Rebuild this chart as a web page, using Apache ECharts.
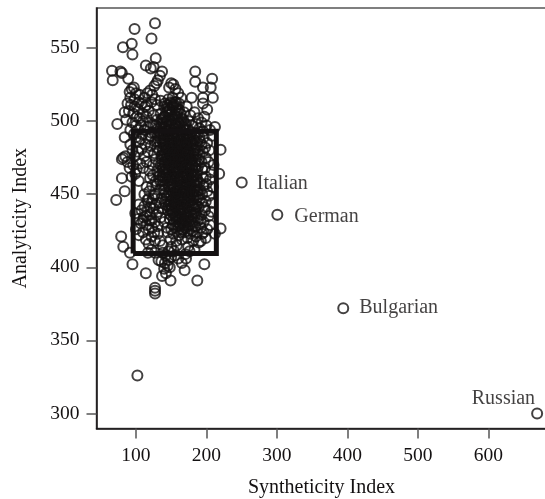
<!DOCTYPE html>
<html><head><meta charset="utf-8">
<style>html,body{margin:0;padding:0;background:#fff}#c{width:545px;height:499px}</style>
<script src="https://cdn.jsdelivr.net/npm/echarts@6/dist/echarts.min.js"></script>
</head><body><div id="c"></div>
<script>
const xTicks=[100,200,300,400,500,600];
const yTicks=[300,350,400,450,500,550];
const boxX=[96,214,214,96,96];
const boxY=[409.5,409.5,493,493,409.5];
const outerPoints=[[127,567],[98,563],[122,556.5],[94,553],[81.5,550.5],[95,545.5],[128,543],[114,538],[121,536],[125,537],[66,534.5],[78,534],[80,533],[67,528],[89,529],[184,534],[184,527],[208,529],[195,523],[206,523],[209,516],[195,516],[179,516],[201,508],[195,512],[73.5,498],[84,506],[86,501],[212,496],[220,480.5],[84,489],[82,475],[80,474],[85,476],[80,461],[84,452],[218,464],[72,446],[79,421],[82,414],[91.5,410],[95,402],[114,396],[127,386],[127,384],[127,382],[137,394],[142.5,396],[149,391],[169,398],[171,406],[197,402],[187,391],[220,426.5],[212,423],[192,418],[102,326]];
const upperPoints=[[134,531],[131,528],[137,534],[129,526],[126,524],[150,526],[153,525],[147,523],[156,522],[160,519],[164,516],[94,522],[97,523],[91,520],[100,519],[92,516],[120,521],[116,519],[123,518],[112,516],[127,515],[105,518],[88,512],[93,511],[98,510],[103,508],[90,507],[96,505],[101,503],[108,512],[113,510],[118,507],[122,513],[130,511],[135,514],[141,512],[146,515],[152,510],[157,513],[161,508],[168,506],[172,510],[177,504],[183,506],[188,502],[193,499],[197,503],[95,499],[100,497],[105,502],[110,500],[115,503],[120,499],[125,504],[130,501],[135,505],[140,503],[145,507],[150,500],[155,504],[160,499],[165,502],[170,498],[175,500],[180,497],[185,498],[190,495],[200,497],[205,494],[208,490]];
const corePointsA=[[100,489],[104,486],[109,491],[113,484],[118,488],[122,492],[127,486],[131,490],[135,496],[139,488],[143,493],[147,497],[151,490],[155,495],[159,489],[163,494],[167,490],[171,494],[175,488],[179,492],[183,487],[187,491],[191,486],[196,489],[201,485],[204,480],[92,484],[95,480],[98,476],[103,479],[108,481],[112,476],[117,479],[121,483],[126,478],[130,482],[134,485],[138,480],[142,484],[146,487],[150,481],[154,485],[158,480],[162,484],[166,481],[170,485],[174,480],[178,483],[182,478],[186,482],[190,477],[195,479],[199,475],[88,472],[91,468],[96,470],[101,467],[106,471],[110,468],[115,472],[119,466],[124,470],[128,474],[132,471],[136,476],[140,472],[144,475],[148,470],[152,476],[156,471],[160,475],[164,472],[168,476],[172,471],[176,475],[180,470],[184,473],[188,469],[193,472],[198,468],[203,472],[207,465],[210,470]];
const corePointsB=[[94,462],[99,464],[104,459],[130,466],[134,463],[138,467],[142,461],[146,465],[150,460],[154,466],[158,462],[162,467],[166,461],[170,465],[174,460],[178,464],[182,459],[186,463],[190,458],[195,461],[200,457],[205,460],[209,455],[115,455],[119,452],[123,456],[127,450],[118,447],[122,444],[126,449],[112,450],[130,457],[134,453],[138,456],[142,451],[146,455],[150,449],[154,454],[158,450],[162,456],[166,451],[170,455],[174,449],[178,453],[182,448],[186,452],[190,446],[194,450],[199,445],[204,449],[208,444],[104,443],[108,439],[112,442],[116,438],[120,436],[125,440],[129,436],[133,444],[137,440],[141,445],[145,439],[149,443],[153,438],[157,444],[161,439],[165,445],[169,440],[173,444],[177,438],[181,442],[185,437],[189,441],[193,436],[198,439],[203,435],[207,438]];
const corePointsC=[[99,437],[103,433],[107,430],[111,434],[115,429],[119,432],[123,427],[127,431],[131,428],[135,434],[140,431],[144,427],[148,433],[152,429],[156,434],[160,428],[164,433],[168,429],[172,434],[176,429],[180,433],[184,428],[188,432],[192,427],[196,431],[201,426],[205,429],[100,426],[104,422],[110,424],[114,419],[118,416],[122,421],[127,418],[131,423],[145,424],[149,419],[153,423],[157,418],[161,422],[165,419],[169,424],[173,420],[177,423],[181,418],[185,421],[189,417],[194,423],[199,420],[150,414],[154,411],[158,415],[146,411],[142,408],[138,410],[132,405],[136,404],[141,403],[146,405],[150,407],[155,408],[160,406],[165,403],[127,410],[122,412],[117,410],[170,409],[176,411],[183,412],[145,401],[140,399],[148,400]];
const densePoints=[[140,510],[144,500],[148,508],[152,516],[156,498],[150,494],[154,488],[158,505],[146,491],[142,496],[160,491],[164,499],[168,488],[172,484],[176,490],[148,484],[152,479],[156,476],[160,478],[164,476],[168,472],[172,468],[150,474],[154,468],[158,465],[162,461],[166,457],[170,452],[174,457],[176,445],[172,441],[168,437],[164,441],[160,446],[156,441],[170,478],[174,474],[178,478],[180,484],[176,468],[180,462],[184,468],[178,456],[182,452],[140,491],[136,498],[138,502],[132,493],[128,497],[144,480],[140,476],[146,470],[142,467],[138,462],[148,462],[152,457],[156,452],[160,459],[164,465],[168,462],[172,458],[176,452],[180,446],[184,443],[150,445],[154,448],[158,435],[162,430],[166,426],[152,437],[148,440]];
const solidPoints=[[149,513],[153,511],[157,509],[145,511],[161,512],[143,506],[147,504],[151,506],[155,501],[159,503],[163,505],[167,501],[139,499],[143,498],[147,501],[151,498],[159,496],[163,490],[167,496],[171,491],[175,494],[137,493],[141,488],[145,494],[149,488],[153,492],[157,486],[161,487],[165,485],[169,481],[173,487],[177,485],[181,488],[135,488],[139,484],[143,477],[147,479],[151,484],[155,481],[159,483],[163,480],[167,478],[171,475],[175,477],[179,474],[183,480],[137,474],[141,470],[145,473],[149,477],[153,472],[157,469],[161,472],[165,469],[169,468],[173,464],[177,470],[181,466],[185,470],[139,465],[143,463],[147,467],[151,463],[155,464],[159,461],[163,458],[167,454],[171,462],[175,455],[179,459],[183,456],[187,460],[141,456],[145,459],[149,453],[153,451],[157,455],[161,449],[165,448],[169,447],[173,452],[177,448],[181,444],[185,449],[143,447],[147,449],[151,441],[155,445],[159,441],[163,437],[167,443],[171,436],[175,442],[179,436],[183,440],[149,436],[153,433],[157,431],[161,434],[165,431],[169,432],[173,428],[177,432],[181,428],[187,434],[92,494],[97,491],[102,494],[107,488],[112,494],[117,496],[121,490],[126,492],[110,505],[115,511],[104,513],[98,515],[107,497],[125,497],[130,486],[185,492],[190,489],[195,493],[188,480],[193,484],[198,482],[189,474],[194,467],[199,462],[186,456],[191,453],[196,456],[201,452],[188,448],[193,444],[197,441],[120,461],[124,463],[128,459],[132,462],[116,446],[120,441],[124,447],[128,443],[132,438],[136,447],[110,432],[114,435],[118,426],[122,432],[126,424],[134,418],[138,415],[174,414],[180,425],[186,424],[192,433],[196,424]];
const inkedPoints=[[141,503],[146,509],[150,512],[155,513],[159,507],[136,501],[140,495],[144,490],[148,497],[152,502],[156,492],[161,498],[165,493],[169,497],[173,490],[134,491],[138,486],[142,482],[146,484],[150,486],[154,482],[158,486],[162,481],[166,487],[170,483],[174,484],[178,487],[182,484],[186,486],[133,480],[137,477],[141,479],[145,482],[149,475],[153,478],[157,473],[161,478],[165,474],[169,474],[173,478],[177,473],[181,476],[185,477],[135,470],[139,468],[143,472],[147,474],[151,469],[155,474],[159,467],[163,470],[167,466],[171,469],[175,466],[179,468],[183,463],[187,466],[134,459],[138,459],[142,464],[146,461],[150,457],[154,461],[158,457],[162,453],[166,463],[170,458],[174,463],[178,460],[182,462],[186,458],[140,453],[144,449],[148,456],[152,447],[156,449],[160,453],[164,452],[168,451],[172,449],[176,449],[180,451],[184,453],[188,452],[142,443],[146,442],[150,439],[154,442],[158,447],[162,443],[166,440],[170,444],[174,438],[178,442],[182,437],[186,442],[155,436],[159,433],[163,429],[167,434],[171,431],[175,434],[179,431],[183,435],[160,426],[164,424],[170,427],[175,425],[150,426],[155,427]];
const namedNames=["Italian","German","Bulgarian","Russian"];
const namedPoints=[[250,458],[300.5,436],[394,372],[669,300]];

const serif='"Liberation Serif","DejaVu Serif",serif';
const ink='#141112';
const labelLayout=[
  {position:'right',distance:9,offset:[0,1]},
  {position:'right',distance:11,offset:[0,2]},
  {position:'right',distance:10,offset:[0,0]},
  {position:'left',distance:0,offset:[4,-15]}
];
const allPoints=[].concat(outerPoints,upperPoints,corePointsA,corePointsB,corePointsC,densePoints,solidPoints,inkedPoints);
const chart=echarts.init(document.getElementById('c'),null,{renderer:'canvas'});
chart.setOption({
  animation:false,
  backgroundColor:'#fff',
  textStyle:{fontFamily:serif},
  grid:{left:96.5,top:8,width:450,height:420.5,outerBoundsMode:'none',show:true,borderColor:'#555',borderWidth:1.5,backgroundColor:'transparent'},
  xAxis:{type:'value',min:44,max:682.3,splitLine:{show:false},
    name:'Syntheticity Index',nameLocation:'middle',nameGap:49.5,
    nameTextStyle:{fontFamily:serif,fontSize:20,color:ink},
    axisLine:{onZero:false,lineStyle:{color:ink,width:1.5}},
    axisTick:{length:10,customValues:xTicks,lineStyle:{color:'#555',width:1.5}},
    axisLabel:{customValues:xTicks,margin:17,fontFamily:serif,fontSize:19.5,color:ink}},
  yAxis:{type:'value',min:289.7,max:577.4,splitLine:{show:false},
    name:'Analyticity Index',nameLocation:'middle',nameGap:66,
    nameTextStyle:{fontFamily:serif,fontSize:20,color:ink},
    axisLine:{onZero:false,lineStyle:{color:ink,width:1.5}},
    axisTick:{length:10,customValues:yTicks,lineStyle:{color:'#555',width:1.5}},
    axisLabel:{customValues:yTicks,margin:17,fontFamily:serif,fontSize:19.5,color:ink}},
  series:[
    {type:'scatter',symbol:'circle',symbolSize:10,data:allPoints,silent:true,
     itemStyle:{color:'rgba(0,0,0,0)',borderColor:ink,borderWidth:2}},
    {type:'line',data:boxX.map((x,i)=>[x,boxY[i]]),symbol:'none',silent:true,
     lineStyle:{color:ink,width:5,join:'miter'}},
    {type:'scatter',symbol:'circle',symbolSize:10,silent:true,
     itemStyle:{color:'rgba(0,0,0,0)',borderColor:ink,borderWidth:2},
     data:namedPoints.map((p,i)=>({value:p,name:namedNames[i],
       label:Object.assign({show:true,formatter:namedNames[i],fontFamily:serif,fontSize:20,color:ink},labelLayout[i])}))}
  ]
});
</script></body></html>
